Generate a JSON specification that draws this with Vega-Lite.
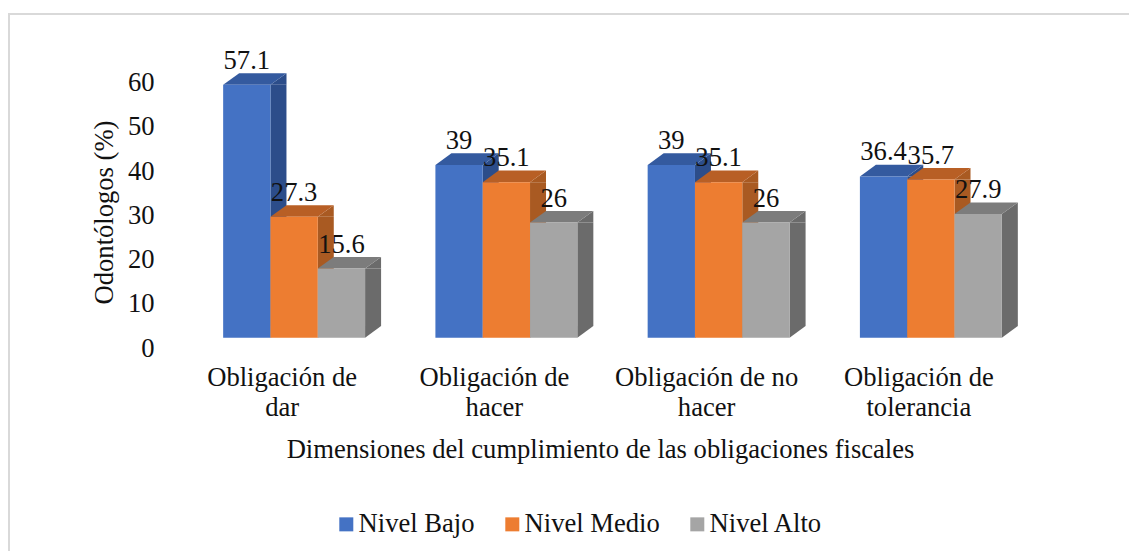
{"$schema":"https://vega.github.io/schema/vega-lite/v6.json","autosize":{"type":"none"},"padding":{"left":9,"top":14,"right":0,"bottom":0},"width":1122,"height":539,"background":"white","view":{"stroke":"#d9d9d9","strokeWidth":2},"config":{"font":"Liberation Serif","text":{"font":"Liberation Serif"}},"data":{"values":[{"Dim":"Obligación de dar","Nivel":"Nivel Bajo","Valor":57.1},{"Dim":"Obligación de dar","Nivel":"Nivel Medio","Valor":27.3},{"Dim":"Obligación de dar","Nivel":"Nivel Alto","Valor":15.6},{"Dim":"Obligación de hacer","Nivel":"Nivel Bajo","Valor":39},{"Dim":"Obligación de hacer","Nivel":"Nivel Medio","Valor":35.1},{"Dim":"Obligación de hacer","Nivel":"Nivel Alto","Valor":26},{"Dim":"Obligación de no hacer","Nivel":"Nivel Bajo","Valor":39},{"Dim":"Obligación de no hacer","Nivel":"Nivel Medio","Valor":35.1},{"Dim":"Obligación de no hacer","Nivel":"Nivel Alto","Valor":26},{"Dim":"Obligación de tolerancia","Nivel":"Nivel Bajo","Valor":36.4},{"Dim":"Obligación de tolerancia","Nivel":"Nivel Medio","Valor":35.7},{"Dim":"Obligación de tolerancia","Nivel":"Nivel Alto","Valor":27.9}]},"encoding":{"x":{"field":"Dim","type":"nominal","sort":null,"axis":null,"scale":{"range":[179,1028],"paddingInner":0,"paddingOuter":0}},"xOffset":{"field":"Nivel","type":"nominal","sort":null,"scale":{"domain":["Nivel Bajo","Nivel Medio","Nivel Alto"],"type":"point","paddingOuter":0,"range":[58.825,153.425]}},"y":{"field":"Valor","type":"quantitative","axis":null,"scale":{"domain":[0,60],"range":[323.7,57.9],"nice":false,"zero":true}}},"layer":[{"mark":{"type":"bar","y2Offset":-11.6,"width":16},"encoding":{"xOffset":{"field":"Nivel","type":"nominal","sort":null,"scale":{"domain":["Nivel Bajo","Nivel Medio","Nivel Alto"],"type":"band","paddingInner":0,"paddingOuter":0.743,"range":[31.65,243.9]}},"y2":{"datum":0},"color":{"field":"Nivel","type":"nominal","legend":null,"scale":{"domain":["Nivel Bajo","Nivel Medio","Nivel Alto"],"range":["#2c4d8a","#a95a22","#6b6b6b"]}}}},{"mark":{"type":"point","filled":true,"opacity":1,"size":4,"shape":"M23.65 0 L39.65 -11.6 L39.65 0 Z"},"encoding":{"color":{"field":"Nivel","type":"nominal","legend":null,"scale":{"domain":["Nivel Bajo","Nivel Medio","Nivel Alto"],"range":["#2c4d8a","#a95a22","#6b6b6b"]}}}},{"mark":{"type":"point","filled":true,"opacity":1,"size":4,"shape":"M23.65 0 L23.65 -11.6 L39.65 -11.6 Z"},"encoding":{"y":{"datum":0},"color":{"field":"Nivel","type":"nominal","legend":null,"scale":{"domain":["Nivel Bajo","Nivel Medio","Nivel Alto"],"range":["#2c4d8a","#a95a22","#6b6b6b"]}}}},{"mark":{"type":"point","filled":true,"opacity":1,"size":4,"shape":"M-23.65 0 L-7.65 -11.6 L39.65 -11.6 L23.65 0 Z"},"encoding":{"color":{"field":"Nivel","type":"nominal","legend":null,"scale":{"domain":["Nivel Bajo","Nivel Medio","Nivel Alto"],"range":["#345a9f","#b85f25","#7c7c7c"]}}}},{"mark":{"type":"bar"},"encoding":{"xOffset":{"field":"Nivel","type":"nominal","sort":null,"scale":{"domain":["Nivel Bajo","Nivel Medio","Nivel Alto"],"type":"band","paddingInner":0,"paddingOuter":0.743,"range":[0,212.25]}},"x":{"field":"Dim","type":"nominal","sort":null,"axis":{"orient":"bottom","offset":-191,"domain":false,"ticks":false,"grid":false,"labelAngle":0,"labelFont":"Liberation Serif","labelFontSize":26.6,"labelColor":"#111111","labelOffset":-12,"labelPadding":2,"labelLineHeight":30,"labelLimit":400,"labelBaseline":"top","labelExpr":"datum.label == 'Obligación de dar' ? ['Obligación de','dar'] : datum.label == 'Obligación de hacer' ? ['Obligación de','hacer'] : datum.label == 'Obligación de no hacer' ? ['Obligación de no','hacer'] : ['Obligación de','tolerancia']","title":"Dimensiones del cumplimiento de las obligaciones fiscales","titleFont":"Liberation Serif","titleFontSize":26.6,"titleFontWeight":"normal","titleColor":"#111111","titleX":591,"titleY":87,"titleBaseline":"middle"}},"y":{"field":"Valor","type":"quantitative","axis":{"orient":"left","offset":-149,"domain":false,"ticks":false,"grid":false,"values":[0,10,20,30,40,50,60],"labelFont":"Liberation Serif","labelFontSize":26.6,"labelColor":"#111111","labelOffset":10.5,"labelPadding":4,"title":"Odontólogos (%)","titleFont":"Liberation Serif","titleFontSize":26.6,"titleFontWeight":"normal","titleColor":"#111111","titleAngle":-90,"titleX":-54,"titleY":198,"titleBaseline":"middle"}},"y2":{"datum":0},"color":{"field":"Nivel","type":"nominal","scale":{"domain":["Nivel Bajo","Nivel Medio","Nivel Alto"],"range":["#4472c4","#ed7d31","#a5a5a5"]},"legend":{"orient":"none","legendX":324,"legendY":497,"direction":"horizontal","title":null,"symbolType":"square","symbolSize":196,"symbolStrokeWidth":0,"labelFont":"Liberation Serif","labelFontSize":26.6,"labelColor":"#111111","labelOffset":-1,"columnPadding":24}}}},{"mark":{"type":"text","baseline":"middle","align":"center","dy":-24,"font":"Liberation Serif","fontSize":26.6,"color":"#111111"},"encoding":{"text":{"field":"Valor","type":"quantitative"}}}],"resolve":{"axis":{"x":"independent","y":"independent"},"scale":{"color":"independent","xOffset":"independent"}}}
